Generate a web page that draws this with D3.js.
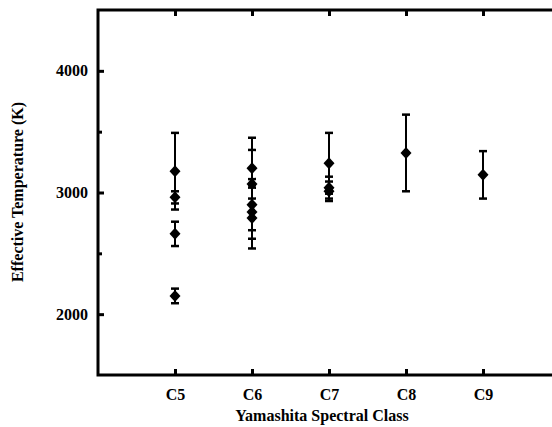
<!DOCTYPE html>
<html>
<head>
<meta charset="utf-8">
<script src="https://cdn.jsdelivr.net/npm/d3@7"></script>
<style>
  body { margin: 0; background: #fff; }
</style>
</head>
<body>
<div id="chart"></div>
<script>
const width = 552;
const height = 427;
const serif = "'Liberation Serif', 'Times New Roman', Times, 'DejaVu Serif', serif";

// spectral class (number) of each star
const classes = [5, 5, 5, 5, 6, 6, 6, 6, 6, 7, 7, 7, 8, 9];
// effective temperature (K)
const temps = [3175, 2960, 2660, 2150, 3200, 3070, 2900, 2840, 2790, 3240, 3040, 3010, 3325, 3145];
// error bar half-widths (K)
const errs = [315, 50, 100, 60, 250, 280, 210, 220, 250, 250, 90, 80, 315, 195];

const classTicks = [5, 6, 7, 8, 9];
const tempTicks = [2000, 2500, 3000, 3500, 4000];

const svg = d3.select("#chart").append("svg")
    .attr("width", width)
    .attr("height", height);

const x = d3.scaleLinear().domain([4, 10]).range([98, 560]);
const y = d3.scaleLinear().domain([1500, 4500]).range([375, 10]);

// frame: left, bottom, top
svg.append("path")
    .attr("d", `M${x(10)},${y(4500)}H${x(4)}V${y(1500)}H${x(10)}`)
    .attr("fill", "none")
    .attr("stroke", "#000")
    .attr("stroke-width", 3);

// ticks, pointing inward
const axBottom = svg.append("g")
    .attr("transform", `translate(0,${y(1500)})`)
    .call(d3.axisBottom(x).tickValues(classTicks).tickSize(-6).tickPadding(14)
        .tickFormat(d => "C" + d));
const axTop = svg.append("g")
    .attr("transform", `translate(0,${y(4500)})`)
    .call(d3.axisTop(x).tickValues(classTicks).tickSize(-6).tickFormat(""));
const axLeft = svg.append("g")
    .attr("transform", `translate(${x(4)},0)`)
    .call(d3.axisLeft(y).tickValues(tempTicks).tickSize(-6).tickPadding(10)
        .tickFormat(d => d % 1000 === 0 ? d : ""));

[axBottom, axTop, axLeft].forEach(g => {
    g.attr("font-family", null).attr("font-size", null);
    g.select(".domain").remove();
    g.selectAll(".tick line").attr("stroke", "#000").attr("stroke-width", 3);
    g.selectAll("text")
        .style("font-family", serif)
        .style("font-weight", "bold")
        .style("font-size", "16px")
        .attr("fill", "#000");
});
axLeft.selectAll(".tick").filter(d => d % 1000 !== 0).select("line").attr("x2", 4);

// error bars
const pts = svg.append("g").selectAll("g")
    .data(temps.map((t, i) => ({ c: classes[i], t: t, e: errs[i] })))
    .join("g");

pts.append("line")
    .attr("x1", d => x(d.c)).attr("x2", d => x(d.c))
    .attr("y1", d => y(d.t + d.e)).attr("y2", d => y(d.t - d.e))
    .attr("stroke", "#000").attr("stroke-width", 2);

pts.selectAll("line.cap")
    .data(d => [{ c: d.c, v: d.t + d.e }, { c: d.c, v: d.t - d.e }])
    .join("line")
    .attr("class", "cap")
    .attr("x1", d => x(d.c) - 4).attr("x2", d => x(d.c) + 4)
    .attr("y1", d => y(d.v)).attr("y2", d => y(d.v))
    .attr("stroke", "#000").attr("stroke-width", 2.5);

// diamonds
pts.append("path")
    .attr("transform", d => `translate(${x(d.c)},${y(d.t)})`)
    .attr("d", "M0,-6L5.5,0L0,6L-5.5,0Z")
    .attr("fill", "#000");

// axis titles
svg.append("text")
    .attr("x", 322).attr("y", 421)
    .attr("text-anchor", "middle")
    .style("font-family", serif)
    .style("font-weight", "bold")
    .style("font-size", "16px")
    .text("Yamashita Spectral Class");

svg.append("text")
    .attr("transform", "translate(23,192) rotate(-90)")
    .attr("text-anchor", "middle")
    .style("font-family", serif)
    .style("font-weight", "bold")
    .style("font-size", "16px")
    .text("Effective Temperature (K)");
</script>
</body>
</html>
